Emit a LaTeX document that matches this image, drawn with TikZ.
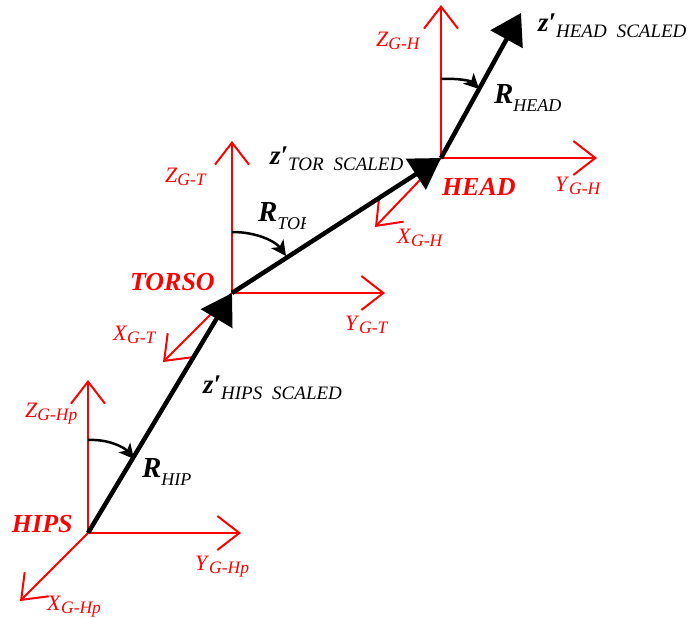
\documentclass[tikz,border=0pt]{standalone}
\usepackage{fontspec}
\setmainfont{Liberation Serif}
\usetikzlibrary{arrows.meta}
\definecolor{axred}{RGB}{255,0,0}
\newcommand{\axlab}[2]{{\fontsize{22}{22}\selectfont\textit{#1}}\raisebox{-3pt}{\fontsize{17.5}{17.5}\selectfont\textit{#2}}}
\newcommand{\zlab}[1]{{\fontsize{27}{27}\selectfont\textbf{\textit{z′}}}\raisebox{-6pt}{\fontsize{19}{19}\selectfont\textit{#1\hspace{10pt}SCALED}}}
\newcommand{\rlab}[1]{{\fontsize{29}{29}\selectfont\textbf{\textit{R}}}\raisebox{-8pt}{\fontsize{18}{18}\selectfont\textit{#1}}}
\newcommand{\seglab}[1]{\fontsize{26}{26}\selectfont\textbf{\textit{#1}}}
\begin{document}
\begin{tikzpicture}[x=1pt,y=-1pt,
  redax/.style={draw=axred, line width=2pt, -{Straight Barb[length=22pt,width=34pt]}},
  seg/.style={draw=black, line width=4.5pt, -{Triangle[length=30pt,width=36pt]}},
  rot/.style={draw=black, line width=2.5pt, -{Stealth[length=15pt,width=15pt,inset=4pt]}},
  lbl/.style={anchor=base west, inner sep=0pt, outer sep=0pt}]
\useasboundingbox (0,0) rectangle (694,618);
% origins
\coordinate (hips) at (88,533);
\coordinate (torso) at (232,293);
\coordinate (head) at (441,158);
\coordinate (top) at (521,13);
% axis tips
\coordinate (zhp) at (88,380);
\coordinate (yhp) at (241,533);
\coordinate (xhp) at (20,601);
\coordinate (zt) at (232,141);
\coordinate (yt) at (385,293);
\coordinate (xt) at (163,362);
\coordinate (zh) at (441,5);
\coordinate (yh) at (597,158);
\coordinate (xh) at (375,227);
% red axes
\draw[redax] (hips) -- (zhp);
\draw[redax] (hips) -- (yhp);
\draw[redax] (hips) -- (xhp);
\draw[redax] (torso) -- (zt);
\draw[redax] (torso) -- (yt);
\draw[redax] (torso) -- (xt);
\draw[redax] (head) -- (zh);
\draw[redax] (head) -- (yh);
\draw[redax] (head) -- (xh);
% black segments
\draw[seg] (hips) -- (torso);
\draw[seg] (torso) -- (head);
\draw[seg] (head) -- (top);
% rotation arcs
\coordinate (ahs) at (88,440);  \coordinate (ahe) at (134,459);
\coordinate (ats) at (232,232); \coordinate (ate) at (286,256);
\coordinate (ahds) at (441,79); \coordinate (ahde) at (479,89);
\draw[rot] (ahs) .. controls (108,439) and (124,447) .. (ahe);
\draw[rot] (ats) .. controls (258,232) and (276,242) .. (ate);
\draw[rot] (ahds) .. controls (458,78) and (471,81) .. (ahde);
% labels
\node[lbl, text=axred] (lzgh) at (376,47) {\axlab{Z}{G-H}};
\node[lbl] (lzhead) at (538,32) {\zlab{HEAD}};
\begin{scope}
\clip (0,0) rectangle (563,618);
\node[lbl] (lrhead) at (494,103) {\rlab{HEAD}};
\end{scope}
\node[lbl] (lztor) at (270,164) {\zlab{TOR}};
\node[lbl, text=axred] (lhead) at (442,195) {\seglab{HEAD}};
\node[lbl, text=axred] (lygh) at (555,191) {\axlab{Y}{G-H}};
\node[lbl, text=axred] (lxgh) at (397,243) {\axlab{X}{G-H}};
\node[lbl, text=axred] (lzgt) at (165,182) {\axlab{Z}{G-T}};
\begin{scope}
\clip (0,0) rectangle (305,618);
\node[lbl] (lrtor) at (258,221) {\rlab{TORSO}};
\end{scope}
\node[lbl, text=axred] (ltorso) at (130,290) {\seglab{TORSO}};
\node[lbl, text=axred] (lygt) at (345,330) {\axlab{Y}{G-T}};
\node[lbl, text=axred] (lxgt) at (113,340) {\axlab{X}{G-T}};
\node[lbl] (lzhips) at (203,393) {\zlab{HIPS}};
\node[lbl, text=axred] (lzghp) at (25,417) {\axlab{Z}{G-Hp}};
\begin{scope}
\clip (0,0) rectangle (190,618);
\node[lbl] (lrhip) at (142,477) {\rlab{HIPS}};
\end{scope}
\node[lbl, text=axred] (lhips) at (12,532) {\seglab{HIPS}};
\node[lbl, text=axred] (lyghp) at (195,570) {\axlab{Y}{G-Hp}};
\node[lbl, text=axred] (lxghp) at (47,610) {\axlab{X}{G-Hp}};
\end{tikzpicture}
\end{document}
